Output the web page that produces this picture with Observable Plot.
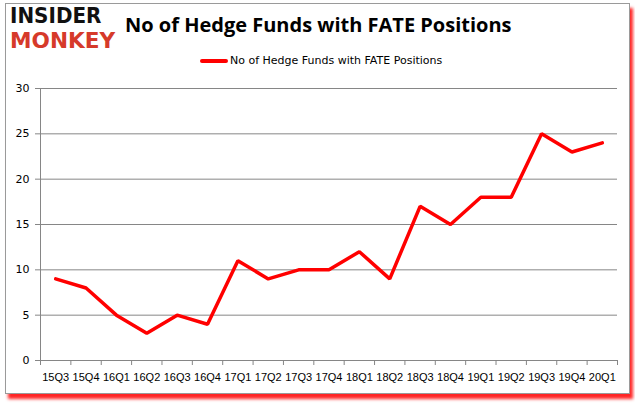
<!DOCTYPE html>
<html>
<head>
<meta charset="utf-8">
<script src="https://cdn.jsdelivr.net/npm/d3@7"></script>
<script src="https://cdn.jsdelivr.net/npm/@observablehq/plot@0.6"></script>
<style>
  html, body { margin: 0; padding: 0; background: #fff; }
  #wrap { position: relative; width: 635px; height: 405px; overflow: hidden; background: #fff; }
  #frame { position: absolute; left: 5px; top: 3px; width: 623px; height: 389px;
           border: 1px solid #9a9a9a; box-shadow: 3px 5px 3px rgba(255,0,0,0.85); background: #fff; }
  .logo { position: absolute; left: 10px; font-family: "DejaVu Sans", sans-serif; font-weight: 900;
          font-size: 21px; line-height: normal; white-space: nowrap; transform-origin: left top; }
  #l1 { top: 3.6px; color: #111; transform: scaleX(0.95); }
  #l2 { top: 28.6px; color: #d63a2a; transform: scaleX(1.03); }
  #title { position: absolute; left: 125px; top: 11px; font-family: "Open Sans", sans-serif;
           font-weight: 700; font-size: 20px; color: #000; white-space: nowrap; }
  #legend { position: absolute; left: 200px; top: 54px; font-family: "DejaVu Sans", sans-serif;
            font-size: 11px; color: #000; white-space: nowrap; display: flex; align-items: center; }
  #legend span.sw { display: inline-block; width: 28px; height: 4px; background: #ff0000; border-radius: 2px; margin-right: 2px; }
  #chart { position: absolute; left: 0; top: 0; }
</style>
</head>
<body>
<div id="wrap">
  <div id="frame"></div>
  <div class="logo" id="l1">INSIDER</div>
  <div class="logo" id="l2">MONKEY</div>
  <div id="title">No of Hedge Funds with FATE Positions</div>
  <div id="legend"><span class="sw"></span><span id="legtext"></span></div>
  <div id="chart"></div>
</div>
<script>
const seriesName = "No of Hedge Funds with FATE Positions";
const quarters = ["15Q3","15Q4","16Q1","16Q2","16Q3","16Q4","17Q1","17Q2","17Q3","17Q4","18Q1","18Q2","18Q3","18Q4","19Q1","19Q2","19Q3","19Q4","20Q1"];
const funds = [9, 8, 5, 3, 5, 4, 11, 9, 10, 10, 12, 9, 17, 15, 18, 18, 25, 23, 24];
const yTicks = [0, 5, 10, 15, 20, 25, 30];

document.getElementById("legtext").textContent = seriesName;

const data = quarters.map((q, i) => ({q, i, pos: i + 0.5, v: funds[i]}));
const boundaries = d3.range(quarters.length + 1);

const chart = Plot.plot({
  width: 635,
  height: 405,
  marginLeft: 40,
  marginRight: 18,
  marginTop: 88,
  marginBottom: 45,
  style: {background: "transparent", fontFamily: "DejaVu Sans, sans-serif", fontSize: "11px", color: "#000"},
  x: {type: "linear", domain: [0, quarters.length], axis: null},
  y: {domain: [0, 30], axis: null},
  marks: [
    Plot.gridY(yTicks, {stroke: "#868686", strokeOpacity: 1, strokeWidth: 1}),
    Plot.ruleY([0], {stroke: "#868686", strokeWidth: 1}),
    Plot.ruleX([0], {stroke: "#868686", strokeWidth: 1}),
    Plot.axisY(yTicks, {tickSize: 5, stroke: "#868686", tickPadding: 6, fontSize: 11, fill: "#000", label: null}),
    Plot.axisX(boundaries, {tickSize: 5, stroke: "#868686", tickFormat: () => "", label: null}),
    Plot.axisX(data.map(d => d.pos), {tickSize: 0, tickPadding: 13, tickFormat: p => quarters[Math.floor(p)], fontSize: 11, fontFamily: "Liberation Sans, sans-serif", fill: "#000", label: null}),
    Plot.line(data, {x: "pos", y: "v", stroke: "#ff0000", strokeWidth: 3.5, strokeLinejoin: "miter", strokeLinecap: "round"})
  ]
});
document.getElementById("chart").appendChild(chart);
</script>
</body>
</html>
